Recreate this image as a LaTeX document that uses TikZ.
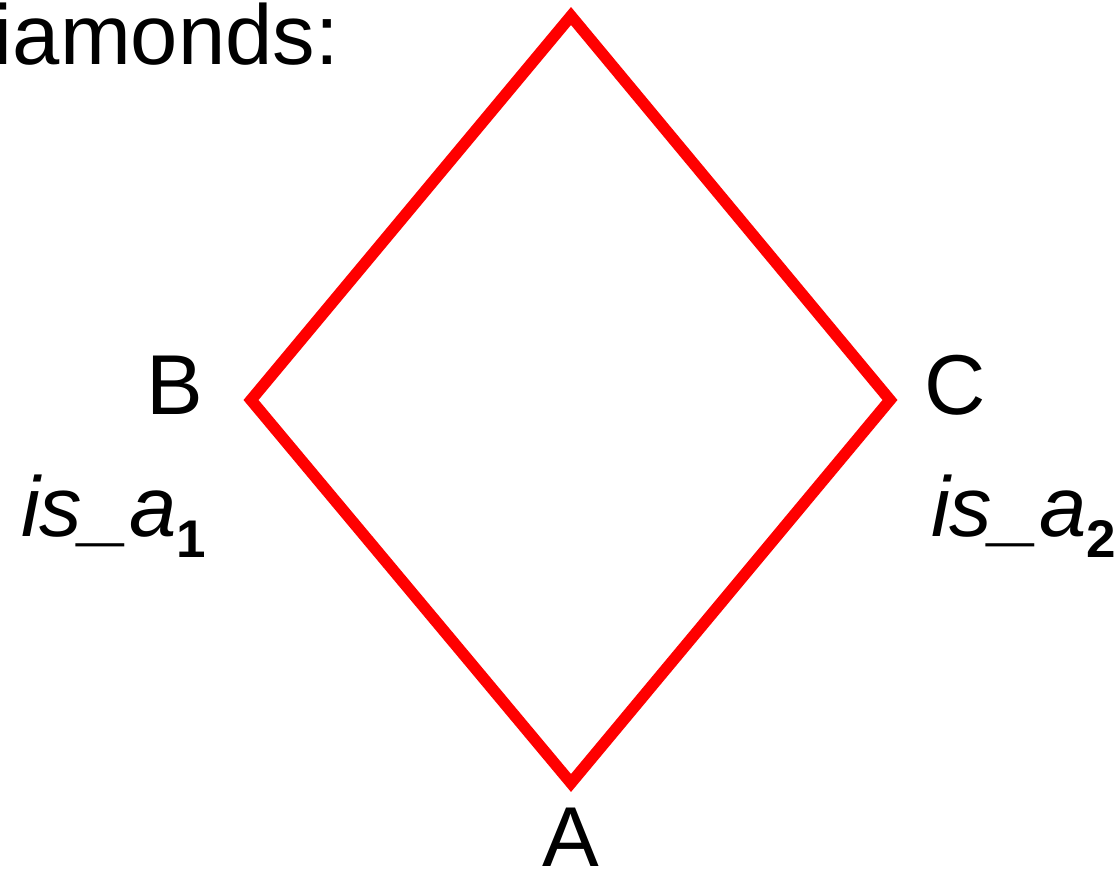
\documentclass[tikz,border=0pt]{standalone}
\usepackage{fontspec}
\setmainfont{Liberation Sans}
\begin{document}
\begin{tikzpicture}[x=1pt,y=-1pt,
  lbl/.style={font=\fontsize{85}{100}\selectfont, inner sep=0pt, outer sep=0pt},
  edge/.style={draw=red, line width=11.5pt, line join=miter}]
\useasboundingbox (0,0) rectangle (1119,869);
\coordinate (top) at (571,16);
\coordinate (left) at (251,400);
\coordinate (right) at (890,400);
\coordinate (bot) at (571,783);
\draw[edge] (top) -- (left) -- (bot) -- (right) -- cycle;
\node[lbl, anchor=base west] (title) at (-6,65) {iamonds:};
\node[lbl, anchor=base] (B) at (174.5,414) {B};
\node[lbl, anchor=base] (C) at (955.5,414) {C};
\node[lbl, anchor=base] (A) at (570.5,866) {A};
\node[lbl, anchor=base west] (isa1) at (21,536) {\itshape is\_a\raisebox{-21pt}{\fontsize{53}{60}\selectfont\upshape\bfseries 1}};
\node[lbl, anchor=base west] (isa2) at (931,536) {\itshape is\_a\raisebox{-21pt}{\fontsize{53}{60}\selectfont\upshape\bfseries 2}};
\end{tikzpicture}
\end{document}
